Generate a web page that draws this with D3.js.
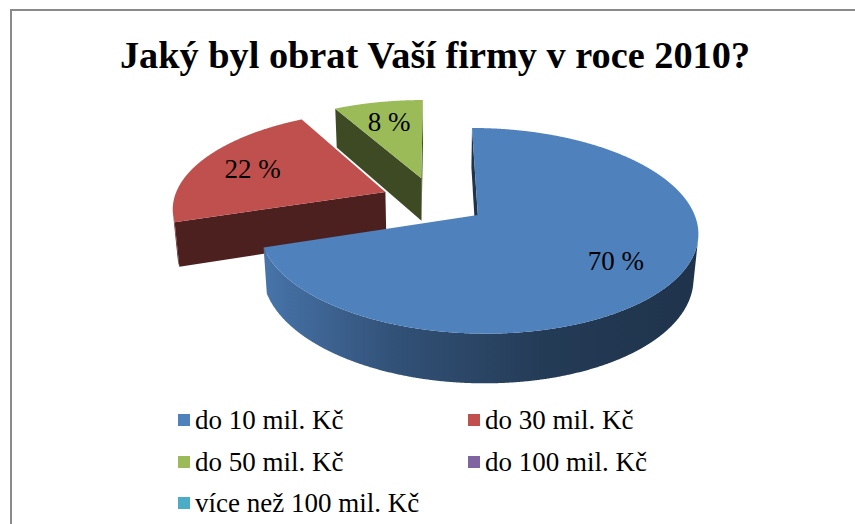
<!DOCTYPE html>
<html>
<head>
<meta charset="utf-8">
<script src="https://cdn.jsdelivr.net/npm/d3@7"></script>
<style>
  html, body { margin: 0; padding: 0; background: #ffffff; font-family: "Liberation Serif", "Times New Roman", serif; }
  svg { display: block; }
  #chart text { font-family: "Liberation Serif", "Times New Roman", serif; }
</style>
</head>
<body>
<svg id="chart" width="855" height="524"></svg>
<script>
// ---- DATA ----
const title = "Jaký byl obrat Vaší firmy v roce 2010?";
const categories = ["do 10 mil. Kč", "do 30 mil. Kč", "do 50 mil. Kč", "do 100 mil. Kč", "více než 100 mil. Kč"];
const values = [70, 22, 8, 0, 0];
const colors = ["#4F81BD", "#C0504D", "#9BBB59", "#8064A2", "#4BACC6"];

// ---- LAYOUT ----
const svg = d3.select("#chart");
const defs = svg.append("defs");

// frame
svg.append("rect").attr("x", 11).attr("y", 10).attr("width", 900).attr("height", 600)
  .attr("fill", "none").attr("stroke", "#8a8a8a").attr("stroke-width", 2);

// title
svg.append("text").attr("x", 435).attr("y", 68).attr("text-anchor", "middle")
  .attr("font-weight", "bold").attr("font-size", 38.3)
  .attr("fill", "#000").text(title);

// 3D projection parameters
const cx0 = 434, cy0 = 200.6, R = 212;
const sinT = 0.453, cosT = Math.sqrt(1 - sinT * sinT);
const D = 5.94, explode = 0.25, depth = 0.235, labelR = 0.72;
const xScale = d3.scaleLinear().domain([0, 1]).range([cx0, cx0 + R]);
const yScale = d3.scaleLinear().domain([0, 1]).range([cy0, cy0 - R]);
const cam = [0, -D * cosT, D * sinT];

function project(u, v, h) {
  const Z = D + v * cosT - h * sinT;
  const f = D / Z;
  return [xScale(u * f), yScale((v * sinT + h * cosT) * f)];
}
function visible(p, n) {
  return (cam[0] - p[0]) * n[0] + (cam[1] - p[1]) * n[1] + (cam[2] - p[2]) * n[2] > 0;
}
const line = d3.line();

const pie = d3.pie().sort(null).value(d => d)(values);
const slices = pie.map((p, i) => {
  const mid = (p.startAngle + p.endAngle) / 2;
  return { i, a0: p.startAngle, a1: p.endAngle, mid, value: p.value,
           u0: explode * Math.sin(mid), v0: explode * Math.cos(mid) };
}).filter(s => s.value > 0);

// draw back to front
const order = slices.slice().sort((a, b) => b.v0 - a.v0);
const g = svg.append("g");

order.forEach(s => {
  const base = d3.color(colors[s.i]);
  const step = Math.PI / 720;
  const angles = d3.range(s.a0, s.a1, step).concat([s.a1]);
  const rim = (a, h) => project(s.u0 + Math.sin(a), s.v0 + Math.cos(a), h);

  const gid = "wall" + s.i;
  const grad = defs.append("linearGradient").attr("id", gid)
    .attr("x1", 0).attr("y1", 0).attr("x2", 1).attr("y2", 0);
  [[0, 0.3], [0.3, 1.3], [0.65, 2.2], [1, 2.6]].forEach(([o, k]) => {
    grad.append("stop").attr("offset", o).attr("stop-color", base.darker(k).formatHex());
  });

  const faces = [
    { a: s.a0, n: [-Math.cos(s.a0), Math.sin(s.a0), 0] },
    { a: s.a1, n: [Math.cos(s.a1), -Math.sin(s.a1), 0] }
  ];
  faces.forEach(fc => {
    const pMid = [s.u0 + 0.5 * Math.sin(fc.a), s.v0 + 0.5 * Math.cos(fc.a), -depth / 2];
    if (!visible(pMid, fc.n)) return;
    const pts = [project(s.u0, s.v0, 0), rim(fc.a, 0), rim(fc.a, -depth), project(s.u0, s.v0, -depth)];
    g.append("path").attr("d", line(pts) + "Z").attr("fill", base.darker(2.6).formatHex());
  });

  let run = [];
  const runs = [];
  angles.forEach(a => {
    const p = [s.u0 + Math.sin(a), s.v0 + Math.cos(a), -depth / 2];
    if (visible(p, [Math.sin(a), Math.cos(a), 0])) run.push(a);
    else if (run.length) { runs.push(run); run = []; }
  });
  if (run.length) runs.push(run);
  runs.forEach(r => {
    if (r.length < 2) return;
    const pts = r.map(a => rim(a, 0)).concat(r.slice().reverse().map(a => rim(a, -depth)));
    g.append("path").attr("d", line(pts) + "Z").attr("fill", `url(#${gid})`);
  });

  const top = [project(s.u0, s.v0, 0)].concat(angles.map(a => rim(a, 0)));
  g.append("path").attr("d", line(top) + "Z").attr("fill", base.formatHex());
});

// data labels
slices.forEach(s => {
  const [x, y] = project(s.u0 + labelR * Math.sin(s.mid), s.v0 + labelR * Math.cos(s.mid), 0);
  svg.append("text").attr("x", x).attr("y", y).attr("dy", "0.35em")
    .attr("text-anchor", "middle").attr("font-size", 27)
    .attr("fill", "#000").text(`${s.value} %`);
});

// legend
const legCols = [178, 468], legRows = [420, 462, 503];
categories.forEach((c, i) => {
  const x = legCols[i % 2], y = legRows[Math.floor(i / 2)];
  svg.append("rect").attr("x", x).attr("y", y - 6).attr("width", 12).attr("height", 12)
    .attr("fill", colors[i]);
  svg.append("text").attr("x", x + 17).attr("y", y).attr("dy", "0.35em")
    .attr("font-size", 27).attr("fill", "#000").text(c);
});
</script>
</body>
</html>
